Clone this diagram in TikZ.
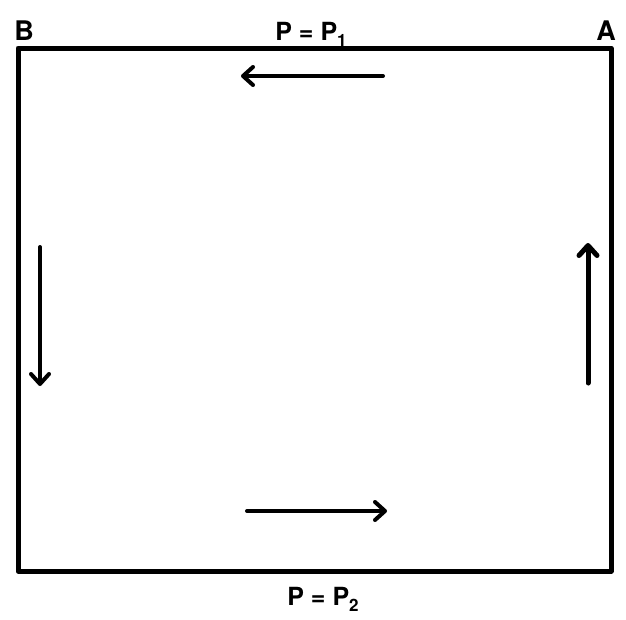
\documentclass[tikz,border=0pt]{standalone}
\usepackage{fontspec}
\setmainfont{TeX Gyre Heros}
\usetikzlibrary{arrows.meta}
\tikzset{
	frame/.style={line width=5pt, line join=round},
	flow/.style={line width=4pt, line cap=round, -{Straight Barb[length=10pt,width=18pt,line cap=round,line join=round]}},
	corner/.style={font=\bfseries\fontsize{27}{27}\selectfont, anchor=base, inner sep=0pt},
	level/.style={font=\bfseries\fontsize{25}{25}\selectfont, anchor=base, inner sep=0pt},
}
\def\sub#1{\raisebox{-0.45ex}{\fontsize{17}{17}\selectfont #1}}

\begin{document}
\begin{tikzpicture}[x=1pt, y=-1pt]
			%%%%% START %%%%%
			\useasboundingbox (0, 0) rectangle (626, 619);
			
			\coordinate (nw) at (18, 48);
			\coordinate (ne) at (611, 48);
			\coordinate (se) at (611, 571);
			\coordinate (sw) at (18, 571);
			\draw[frame] (nw) -- (ne) -- (se) -- (sw) -- cycle;
			
			\node[corner] (cornerB) at (24, 40) {B};
			\node[corner] (cornerA) at (606, 40) {A};
			\node[level] (levelOne) at (311, 40) {P = P\sub{1}};
			\node[level] (levelTwo) at (323, 605) {P = P\sub{2}};
			
			\coordinate (topTail) at (383, 76);
			\coordinate (topHead) at (241, 76);
			\draw[flow] (topTail) -- (topHead);
			
			\coordinate (leftTail) at (40, 247);
			\coordinate (leftHead) at (40, 386);
			\draw[flow] (leftTail) -- (leftHead);
			
			\coordinate (rightTail) at (588, 383);
			\coordinate (rightHead) at (588, 243);
			\draw[flow, line width=5pt] (rightTail) -- (rightHead);
			
			\coordinate (botTail) at (247, 511);
			\coordinate (botHead) at (387, 511);
			\draw[flow] (botTail) -- (botHead);
			
			%%%%% END %%%%%
		\end{tikzpicture}
\end{document}
